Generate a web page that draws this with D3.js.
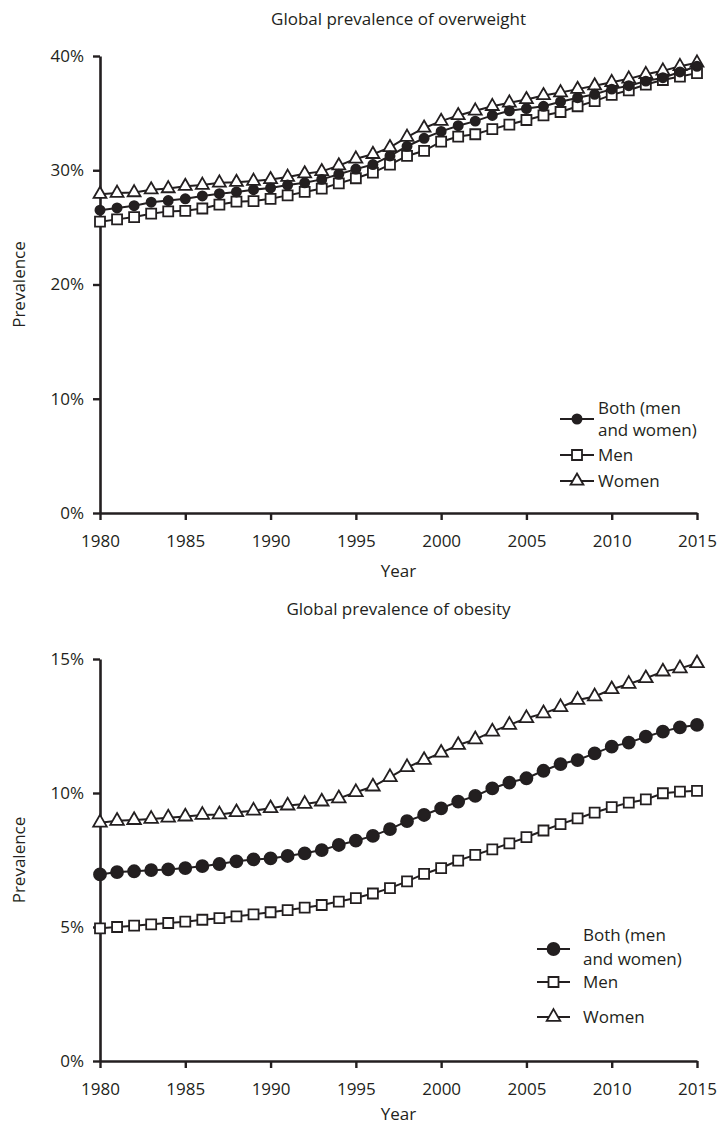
<!DOCTYPE html>
<html>
<head>
<meta charset="utf-8">
<script src="https://cdn.jsdelivr.net/npm/d3@7"></script>
<style>
  html, body { margin: 0; padding: 0; background: #fff; }
  svg { display: block; }
  text { font-family: "Open Sans", "Noto Sans", sans-serif; fill: #231f20; }
</style>
</head>
<body>
<svg id="chart" width="721" height="1128"></svg>
<script>
// Survey years
const years = [1980, 1981, 1982, 1983, 1984, 1985, 1986, 1987, 1988, 1989,
               1990, 1991, 1992, 1993, 1994, 1995, 1996, 1997, 1998, 1999,
               2000, 2001, 2002, 2003, 2004, 2005, 2006, 2007, 2008, 2009,
               2010, 2011, 2012, 2013, 2014, 2015];
const xTickYears = [1980, 1985, 1990, 1995, 2000, 2005, 2010, 2015];

// Global prevalence of overweight (%)
const overweightBoth = [26.5, 26.7, 26.9, 27.2, 27.35, 27.5, 27.75, 27.95, 28.1, 28.3,
                        28.45, 28.7, 28.9, 29.2, 29.65, 30.1, 30.5, 31.25, 32.1, 32.8,
                        33.4, 33.9, 34.3, 34.8, 35.2, 35.4, 35.6, 36.0, 36.35, 36.65,
                        37.1, 37.4, 37.8, 38.1, 38.6, 39.1];
const overweightMen = [25.5, 25.7, 25.9, 26.2, 26.4, 26.45, 26.65, 27.0, 27.25, 27.3,
                       27.5, 27.8, 28.1, 28.4, 28.85, 29.3, 29.8, 30.5, 31.25, 31.7,
                       32.5, 32.95, 33.15, 33.6, 34.0, 34.4, 34.8, 35.1, 35.6, 36.05,
                       36.6, 37.0, 37.5, 37.9, 38.2, 38.5];
const overweightWomen = [27.9, 28.0, 28.05, 28.3, 28.4, 28.6, 28.7, 28.9, 28.95, 29.05,
                         29.2, 29.4, 29.7, 29.9, 30.4, 31.0, 31.4, 32.0, 32.9, 33.7,
                         34.3, 34.8, 35.2, 35.6, 35.9, 36.2, 36.55, 36.8, 37.1, 37.4,
                         37.7, 38.0, 38.4, 38.7, 39.1, 39.4];
const overweightTicks = [0, 10, 20, 30, 40];

// Global prevalence of obesity (%)
const obesityBoth = [6.96, 7.05, 7.08, 7.12, 7.15, 7.2, 7.27, 7.35, 7.45, 7.52,
                     7.56, 7.65, 7.75, 7.87, 8.06, 8.22, 8.4, 8.65, 8.95, 9.18,
                     9.43, 9.68, 9.89, 10.17, 10.39, 10.55, 10.83, 11.08, 11.23, 11.48,
                     11.73, 11.88, 12.1, 12.29, 12.45, 12.54];
const obesityMen = [4.95, 5.0, 5.05, 5.1, 5.15, 5.2, 5.27, 5.33, 5.4, 5.47,
                    5.55, 5.63, 5.72, 5.82, 5.95, 6.08, 6.25, 6.45, 6.7, 6.98,
                    7.2, 7.48, 7.69, 7.9, 8.12, 8.35, 8.6, 8.84, 9.05, 9.27,
                    9.47, 9.64, 9.76, 9.99, 10.05, 10.08];
const obesityWomen = [8.89, 8.96, 8.99, 9.03, 9.08, 9.12, 9.18, 9.2, 9.28, 9.34,
                      9.43, 9.53, 9.59, 9.68, 9.8, 10.03, 10.24, 10.59, 10.96, 11.23,
                      11.5, 11.79, 12.0, 12.29, 12.54, 12.79, 12.97, 13.2, 13.47, 13.6,
                      13.87, 14.07, 14.28, 14.53, 14.65, 14.84];
const obesityTicks = [0, 5, 10, 15];

const seriesNames = [["Both (men", "and women)"], ["Men"], ["Women"]];

const INK = "#231f20";
const FONT_SIZE = 17;
const svg = d3.select("#chart");

function drawPanel(cfg) {
  const g = svg.append("g");
  const x = d3.scaleLinear().domain([years[0], years[years.length - 1]]).range([cfg.left, cfg.right]);
  const y = d3.scaleLinear().domain([0, cfg.ticks[cfg.ticks.length - 1]]).range([cfg.bottom, cfg.top]);

  // panel title
  g.append("text")
    .attr("x", (cfg.left + cfg.right) / 2)
    .attr("y", cfg.titleY)
    .attr("text-anchor", "middle")
    .style("font-size", FONT_SIZE + "px")
    .text(cfg.title);

  // axes
  const yAxis = g.append("g")
    .attr("transform", `translate(${cfg.left},0)`)
    .call(d3.axisLeft(y).tickValues(cfg.ticks).tickSize(7).tickSizeOuter(0).tickPadding(9)
      .tickFormat(d => d + "%"));
  const xAxis = g.append("g")
    .attr("transform", `translate(0,${cfg.bottom})`)
    .call(d3.axisBottom(x).tickValues(xTickYears).tickSize(7).tickSizeOuter(0).tickPadding(15)
      .tickFormat(d3.format("d")));
  [xAxis, yAxis].forEach(a => {
    a.select(".domain").attr("stroke", INK).attr("stroke-width", 2.6);
    a.selectAll(".tick line").attr("stroke", INK).attr("stroke-width", 2.4);
    a.selectAll(".tick text").attr("fill", INK).style("font-size", FONT_SIZE + "px")
      .style("font-family", '"Open Sans", sans-serif');
  });

  // axis titles
  g.append("text")
    .attr("x", (cfg.left + cfg.right) / 2)
    .attr("y", cfg.bottom + cfg.yearGap)
    .attr("text-anchor", "middle")
    .style("font-size", FONT_SIZE + "px")
    .text("Year");
  g.append("text")
    .attr("transform", `translate(25,${(cfg.top + cfg.bottom) / 2}) rotate(-90)`)
    .attr("text-anchor", "middle")
    .style("font-size", FONT_SIZE + "px")
    .text("Prevalence");

  const line = d3.line().x((d, i) => x(years[i])).y(d => y(d));

  const series = [
    { values: cfg.men, symbol: d3.symbolSquare, size: cfg.squareSize, fill: "#fff" },
    { values: cfg.women, symbol: d3.symbolTriangle, size: cfg.triangleSize, fill: "#fff" },
    { values: cfg.both, symbol: d3.symbolCircle, size: cfg.circleSize, fill: INK }
  ];

  series.forEach(s => {
    const sg = g.append("g");
    sg.append("path")
      .datum(s.values)
      .attr("d", line)
      .attr("fill", "none")
      .attr("stroke", INK)
      .attr("stroke-width", 2);
    sg.selectAll("path.mark")
      .data(s.values)
      .join("path")
      .attr("class", "mark")
      .attr("transform", (d, i) => `translate(${x(years[i])},${y(d)})`)
      .attr("d", d3.symbol().type(s.symbol).size(s.size))
      .attr("fill", s.fill)
      .attr("stroke", INK)
      .attr("stroke-width", 1.8);
  });

  // legend: both, men, women
  const lg = g.append("g");
  const legendItems = [series[2], series[0], series[1]];
  legendItems.forEach((s, i) => {
    const ry = cfg.legend.rows[i];
    lg.append("line")
      .attr("x1", cfg.legend.x1).attr("x2", cfg.legend.x2)
      .attr("y1", ry).attr("y2", ry)
      .attr("stroke", INK).attr("stroke-width", 2);
    lg.append("path")
      .attr("transform", `translate(${(cfg.legend.x1 + cfg.legend.x2) / 2},${ry})`)
      .attr("d", d3.symbol().type(s.symbol).size(s.size))
      .attr("fill", s.fill)
      .attr("stroke", INK)
      .attr("stroke-width", 1.8);

    const label = lg.append("text")
      .attr("x", cfg.legend.textX)
      .attr("y", cfg.legend.labels[i])
      .style("font-size", FONT_SIZE + "px");
    seriesNames[i].forEach((t, k) => {
      label.append("tspan")
        .attr("x", cfg.legend.textX)
        .attr("dy", k === 0 ? "0.35em" : cfg.legend.lineGap + "px")
        .text(t);
    });
  });
}

drawPanel({
  title: "Global prevalence of overweight",
  titleY: 25,
  left: 100, right: 697, top: 56, bottom: 513,
  yearGap: 64,
  ticks: overweightTicks,
  both: overweightBoth, men: overweightMen, women: overweightWomen,
  circleSize: 66, squareSize: 100, triangleSize: 72,
  legend: { x1: 560, x2: 594, textX: 598, rows: [419, 455, 481], labels: [408, 455, 481], lineGap: 22 }
});

drawPanel({
  title: "Global prevalence of obesity",
  titleY: 615,
  left: 100, right: 697, top: 659, bottom: 1061,
  yearGap: 59,
  ticks: obesityTicks,
  both: obesityBoth, men: obesityMen, women: obesityWomen,
  circleSize: 113, squareSize: 100, triangleSize: 80,
  legend: { x1: 537, x2: 570, textX: 583, rows: [949, 982, 1017], labels: [935, 982, 1017], lineGap: 24 }
});
</script>
</body>
</html>
